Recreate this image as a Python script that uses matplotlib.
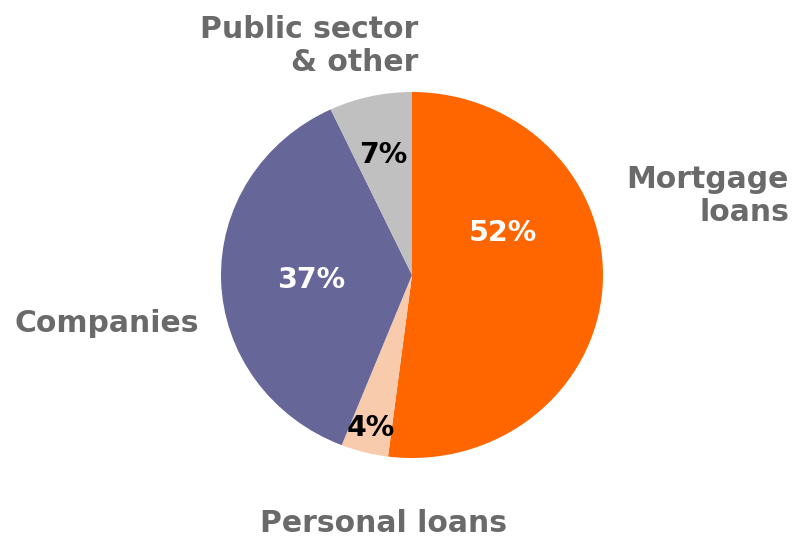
import matplotlib
matplotlib.use('Agg')
import matplotlib.pyplot as plt

# clockwise from 12 o'clock
categories = ['Mortgage loans', 'Personal loans', 'Companies', 'Public sector & other']
shares = [52, 4, 37, 7]
colors = ['#FF6600', '#F8CBAD', '#666699', '#C0C0C0']
pct_colors = ['white', 'black', 'white', 'black']

W, H = 799, 537
fig = plt.figure(figsize=(W / 100, H / 100), dpi=100)

# pie box in pixels (slightly wider than tall, like the original)
cx, cy, rx, ry = 412, 275, 191, 183
ax = fig.add_axes([(cx - rx) / W, (H - cy - ry) / H, 2 * rx / W, 2 * ry / H])

wedges, _ = ax.pie(shares, colors=colors, startangle=90, counterclock=False,
                   radius=1, wedgeprops=dict(linewidth=0))
ax.set_aspect('auto')
ax.set_xlim(-1, 1)
ax.set_ylim(-1, 1)
ax.axis('off')

# percentage labels (data coords inside the pie)
pct_pos = [(0.476, 0.23), (-0.215, -0.836), (-0.529, -0.027), (-0.152, 0.656)]
for val, (x, y), c in zip(shares, pct_pos, pct_colors):
    ax.text(x, y, f'{val}%', ha='center', va='center', color=c,
            fontsize=20.5, fontweight='bold')

# category labels around the pie (figure pixels)
GREY = '#6A6A6A'
FS = 21.5
def px(x, y):
    return x / W, 1 - y / H

fig.text(*px(418, 46), 'Public sector\n& other', ha='right', va='center',
         fontsize=FS, fontweight='bold', color=GREY, linespacing=1.2)
fig.text(*px(789, 196), 'Mortgage\nloans', ha='right', va='center',
         fontsize=FS, fontweight='bold', color=GREY, linespacing=1.2)
fig.text(*px(15, 324), 'Companies', ha='left', va='center',
         fontsize=FS, fontweight='bold', color=GREY)
fig.text(*px(384, 524), 'Personal loans', ha='center', va='center',
         fontsize=FS, fontweight='bold', color=GREY)

fig.savefig('out.png', dpi=100)
